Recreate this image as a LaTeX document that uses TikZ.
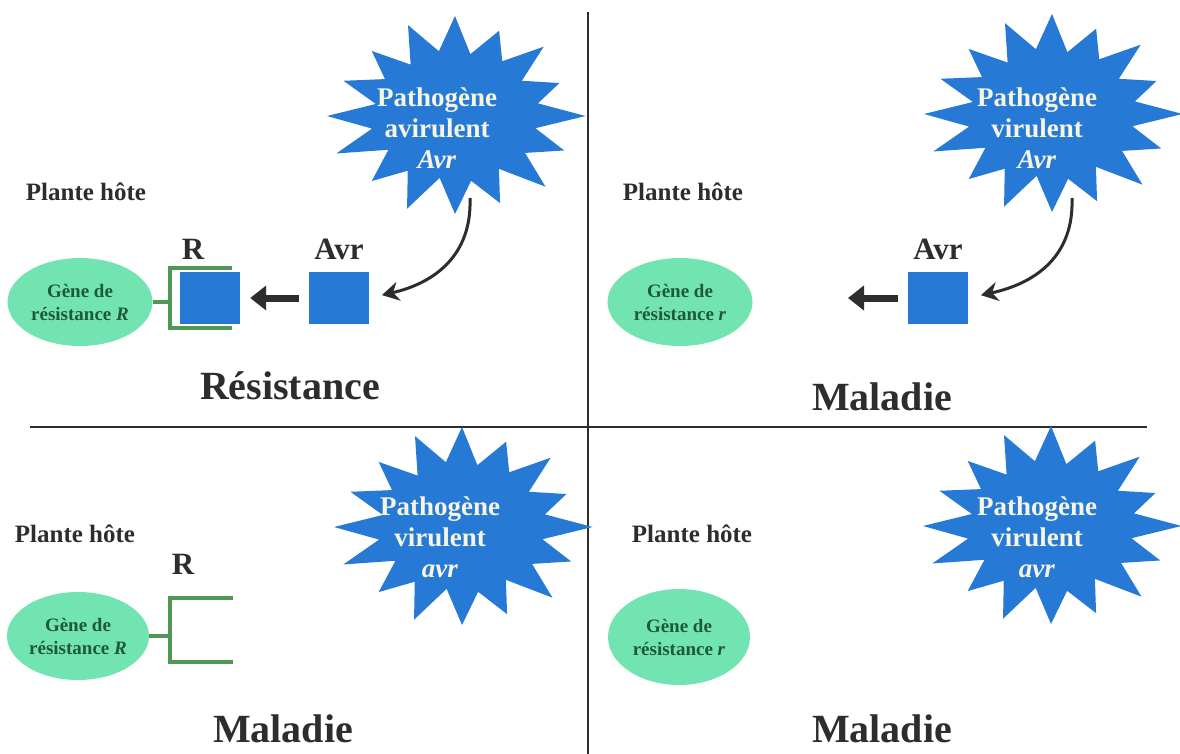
\documentclass[tikz,border=0pt]{standalone}
\usepackage{fontspec}
\setmainfont{Liberation Serif}
\usetikzlibrary{shapes.geometric,arrows.meta}
\definecolor{burstblue}{RGB}{38,122,214}
\definecolor{mint}{RGB}{114,228,178}
\definecolor{genegreen}{RGB}{30,90,55}
\definecolor{brgreen}{RGB}{80,150,85}
\definecolor{ink}{RGB}{45,45,45}
\definecolor{bursttext}{RGB}{245,245,225}
\begin{document}
\begin{tikzpicture}[x=1pt,y=-1pt,
  lbl/.style={font=\bfseries\fontsize{25}{28}\selectfont, text=ink, inner sep=0pt},
  tag/.style={font=\bfseries\fontsize{31}{34}\selectfont, text=ink, inner sep=0pt},
  big/.style={font=\bfseries\fontsize{40}{44}\selectfont, text=ink, inner sep=0pt, anchor=base},
  gene/.style={ellipse, fill=mint, draw=none, minimum width=145pt, minimum height=88pt,
    font=\bfseries\fontsize{19}{23}\selectfont, text=genegreen, align=center, inner sep=0pt},
  sq/.style={fill=burstblue, draw=none, minimum width=60pt, minimum height=52pt, inner sep=0pt},
  btxt/.style={font=\bfseries\fontsize{27}{31}\selectfont, text=bursttext, align=center, inner sep=0pt},
  rbracket/.style={draw=brgreen, line width=4pt},
  divider/.style={draw=ink, line width=2.5pt},
  curv/.style={draw=ink, line width=3pt, -{Stealth[length=17pt,width=19pt]}},
  push/.style={draw=ink, line width=7pt, -{Triangle[length=16pt,width=24pt]}},
  burst/.pic={\fill[burstblue, xscale=1.28] (0:102) -- (11:64) -- (22:92) -- (34:66) -- (45:100) -- (57:63) -- (68:94) -- (79:66) -- (90:98) -- (101:63) -- (112:100) -- (124:66) -- (135:92) -- (147:62) -- (158:100) -- (169:66) -- (180:100) -- (191:63) -- (202:94) -- (214:66) -- (225:92) -- (236:62) -- (248:98) -- (259:66) -- (270:100) -- (281:63) -- (292:92) -- (304:66) -- (315:98) -- (326:63) -- (338:88) -- (349:66) -- cycle;}
]
\path[use as bounding box, fill=white] (0,0) rectangle (1180,754);

% dividers
\coordinate (vtop) at (588,12);
\coordinate (vbot) at (588,754);
\coordinate (hl) at (30,427);
\coordinate (hr) at (1147,427);
\draw[divider] (vtop) -- (vbot);
\draw[divider] (hl) -- (hr);

% ---------- top left ----------
\pic at (455,116) {burst};
\node[btxt] (pathTL) at (437,128) {Pathogène\\avirulent\\\textit{Avr}};
\node[lbl] (plTL) at (86,192) {Plante hôte};
\node[gene] (geneTL) at (80,302) {Gène de\\résistance \textit{R}};
\node[sq] (rsqTL) at (210,298) {};
\node[sq] (avrTL) at (339,298) {};
\node[tag] (rlTL) at (193,249) {R};
\node[tag] (avrlTL) at (339,249) {Avr};
\coordinate (bTLt) at (232,268);
\coordinate (bTLc) at (170,328);
\coordinate (bTLb) at (232,328);
\draw[rbracket] (bTLt) -| (bTLc) -- (bTLb);
\draw[rbracket] (geneTL.east) -- (geneTL.east -| bTLc);
\draw[push, shorten <=10pt, shorten >=10pt] (avrTL.west) -- (rsqTL.east);
\coordinate (cTL) at (470,198);
\draw[curv, shorten >=13pt] (cTL) .. controls (472,255) and (435,283) .. (avrTL.east);
\node[big] (resist) at (290,399) {Résistance};

% ---------- top right ----------
\pic at (1052,114) {burst};
\node[btxt] (pathTR) at (1037,128) {Pathogène\\virulent\\\textit{Avr}};
\node[lbl] (plTR) at (683,192) {Plante hôte};
\node[gene] (geneTR) at (680,302) {Gène de\\résistance \textit{r}};
\node[sq] (avrTR) at (938,298) {};
\node[tag] (avrlTR) at (938,249) {Avr};
\coordinate (aTRend) at (848,298);
\draw[push, shorten <=10pt] (avrTR.west) -- (aTRend);
\coordinate (cTR) at (1072,198);
\draw[curv, shorten >=13pt] (cTR) .. controls (1074,255) and (1037,283) .. (avrTR.east);
\node[big] (malTR) at (882,410) {Maladie};

% ---------- bottom left ----------
\pic at (462,527) {burst};
\node[btxt] (pathBL) at (440,537) {Pathogène\\virulent\\\textit{avr}};
\node[lbl] (plBL) at (75,534) {Plante hôte};
\node[tag] (rlBL) at (183,564) {R};
\node[gene, minimum width=142pt] (geneBL) at (78,636) {Gène de\\résistance \textit{R}};
\coordinate (bBLt) at (233,598);
\coordinate (bBLc) at (170,662);
\coordinate (bBLb) at (233,662);
\draw[rbracket] (bBLt) -| (bBLc) -- (bBLb);
\draw[rbracket] (geneBL.east) -- (geneBL.east -| bBLc);
\node[big] (malBL) at (283,742) {Maladie};

% ---------- bottom right ----------
\pic at (1051,526) {burst};
\node[btxt] (pathBR) at (1037,537) {Pathogène\\virulent\\\textit{avr}};
\node[lbl] (plBR) at (692,534) {Plante hôte};
\node[gene, minimum width=142pt, minimum height=96pt] (geneBR) at (679,637) {Gène de\\résistance \textit{r}};
\node[big] (malBR) at (882,742) {Maladie};
\end{tikzpicture}
\end{document}
